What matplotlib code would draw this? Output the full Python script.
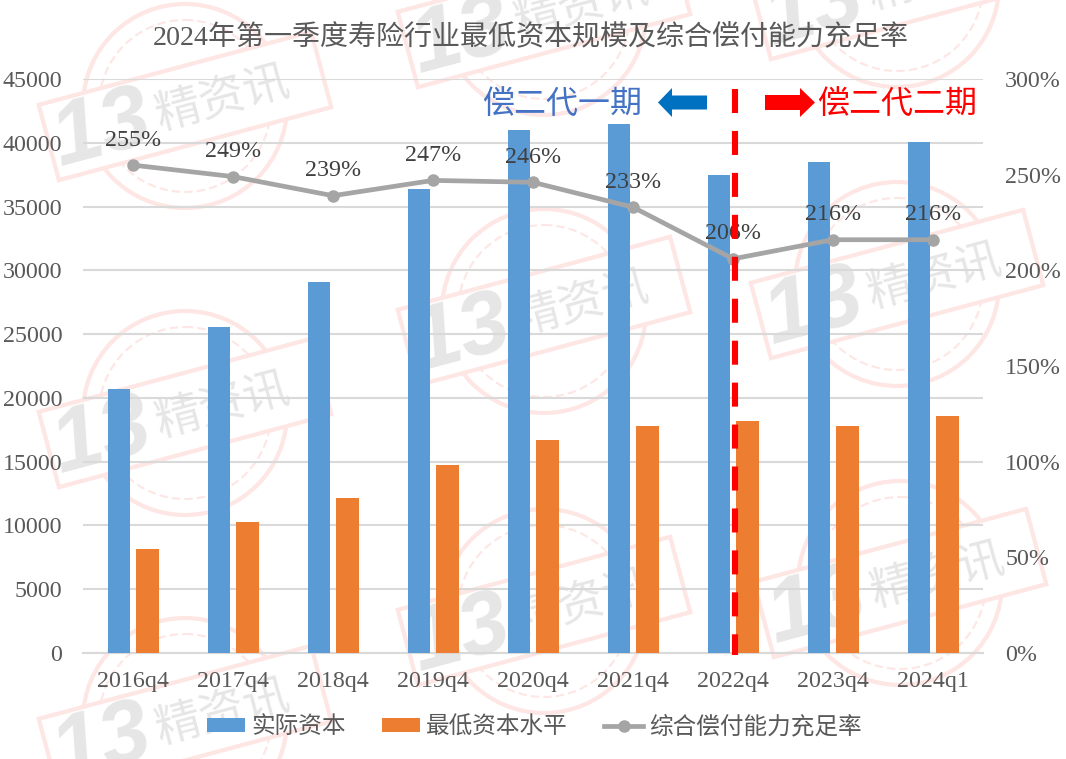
import matplotlib
matplotlib.use("Agg")
import numpy as np
import matplotlib.pyplot as plt
import matplotlib.patches as mpatches

plt.rcParams['font.family'] = ['Liberation Serif', 'Noto Sans CJK SC', 'DejaVu Sans']

# Data
categories = ['2016q4', '2017q4', '2018q4', '2019q4', '2020q4', '2021q4', '2022q4', '2023q4', '2024q1']
actual_capital = [20700, 25560, 29080, 36370, 41000, 41470, 37470, 38490, 40060]
min_capital = [8150, 10270, 12150, 14740, 16700, 17800, 18190, 17800, 18580]
solvency_ratio = [2.55, 2.49, 2.39, 2.47, 2.46, 2.33, 2.06, 2.16, 2.16]
left_ticks = [0, 5000, 10000, 15000, 20000, 25000, 30000, 35000, 40000, 45000]
right_ticks = [0, 0.5, 1.0, 1.5, 2.0, 2.5, 3.0]

W, H = 1066, 759
GRID = '#d9d9d9'
TICK = '#595959'
BLUE = '#5b9bd5'
ORANGE = '#ed7d31'
GREY = '#a5a5a5'

fig = plt.figure(figsize=(W / 100, H / 100), dpi=100, facecolor='white')

# Watermark layer, in pixel coordinates
back = fig.add_axes([0, 0, 1, 1], zorder=-1)
back.set_xlim(0, W)
back.set_ylim(H, 0)
back.axis('off')

def rotated(cx, cy, dx, dy, deg=15):
    a = np.radians(deg)
    return cx + dx * np.cos(a) + dy * np.sin(a), cy - dx * np.sin(a) + dy * np.cos(a)

def stamp(cx, cy):
    red = '#fde6e3'
    back.add_patch(mpatches.Circle((cx, cy), 102, fill=False, ec=red, lw=3, zorder=1))
    back.add_patch(mpatches.Circle((cx, cy), 86, fill=False, ec=red, lw=1.5, ls=(0, (4, 2)), zorder=1))
    corners = [rotated(cx, cy, sx * 141, sy * 39) for sx, sy in [(-1, -1), (1, -1), (1, 1), (-1, 1)]]
    back.add_patch(mpatches.Polygon(corners, closed=True, fc='white', ec=red, lw=3, zorder=2))
    back.text(cx - 83, cy + 25, '13', fontsize=64, fontweight='bold', fontstyle='italic',
              family='Liberation Sans', color='#e6e6e6', rotation=15,
              ha='center', va='center', rotation_mode='anchor', zorder=3)
    back.text(cx + 38, cy - 8, '精资讯', fontsize=33, family='Noto Sans CJK SC', color='#e6e6e6',
              rotation=15, ha='center', va='center', rotation_mode='anchor', zorder=3)

for cx, cy in [(185, 106), (185, 413), (185, 720),
               (544, 13), (544, 311), (544, 611),
               (897, -15), (897, 284), (900, 583)]:
    stamp(cx, cy)

# Main axes: plot area spans x 83-983, y 79-653 in pixels
ax = fig.add_axes([83 / W, 1 - 653 / H, 900 / W, 574 / H])
ax.patch.set_alpha(0)
x = np.arange(len(categories))
ax.bar(x - 0.14, actual_capital, width=0.225, color=BLUE, zorder=2, label='实际资本')
ax.bar(x + 0.145, min_capital, width=0.23, color=ORANGE, zorder=2, label='最低资本水平')
ax.set_xlim(-0.5, 8.5)
ax.set_ylim(0, 45000)
ax.set_yticks(left_ticks)
ax.set_xticks(x)
ax.set_xticklabels(categories)
ax.tick_params(axis='y', length=0, pad=15, labelsize=17.3, labelcolor=TICK)
ax.tick_params(axis='x', length=0, pad=13, labelsize=17.3, labelcolor=TICK)
ax.grid(axis='y', color=GRID, lw=1.5, zorder=1)
ax.set_axisbelow(True)
for s in ax.spines.values():
    s.set_visible(False)
ax.axhline(0, color=GRID, lw=1.5, zorder=1, clip_on=False)

# Secondary axis for the ratio line
ax2 = ax.twinx()
ax2.patch.set_alpha(0)
ax2.plot(x, solvency_ratio, color=GREY, lw=3.4, marker='o', ms=8, zorder=3, label='综合偿付能力充足率')
ax2.set_ylim(0, 3)
ax2.set_yticks(right_ticks)
ax2.set_yticklabels([f'{int(t * 100)}%' for t in right_ticks])
ax2.tick_params(axis='y', length=0, pad=16, labelsize=17.3, labelcolor=TICK)
for s in ax2.spines.values():
    s.set_visible(False)
for xi, v in zip(x, solvency_ratio):
    ax2.annotate(f'{int(round(v * 100))}%', (xi, v), xytext=(0, 18), textcoords='offset points',
                 ha='center', va='center', fontsize=17.3, color='#404040', zorder=4)

# Red divider between the two regimes
ax2.plot([6.02, 6.02], [2.95, -0.01], color='#ff0000', lw=4.4, zorder=6, clip_on=False,
         dash_capstyle='butt', linestyle=(0, (17.3 / 4.4, 12.9 / 4.4)))

# Arrows and regime labels
top = fig.add_axes([0, 0, 1, 1], zorder=5)
top.set_xlim(0, W)
top.set_ylim(H, 0)
top.axis('off')
top.add_patch(mpatches.FancyArrow(707, 102.5, -49, 0, width=14, head_width=29, head_length=14,
                                  length_includes_head=True, color='#0070c0', lw=0))
top.add_patch(mpatches.FancyArrow(765, 102.5, 50, 0, width=15, head_width=29, head_length=15,
                                  length_includes_head=True, color='#ff0000', lw=0))
top.text(562, 105, '偿二代一期', fontsize=23, color='#4472c4', ha='center', va='center')
top.text(897, 105, '偿二代二期', fontsize=23, color='#ff0000', ha='center', va='center')

fig.text(531 / W, 1 - 38 / H, '2024年第一季度寿险行业最低资本规模及综合偿付能力充足率',
         fontsize=20.2, color=TICK, ha='center', va='center')

h1, l1 = ax.get_legend_handles_labels()
h2, l2 = ax2.get_legend_handles_labels()
fig.legend(h1 + h2, l1 + l2, loc='center', bbox_to_anchor=(534 / W, 1 - 727 / H), ncol=3,
           frameon=False, fontsize=17, labelcolor=TICK, handlelength=1.62, handleheight=0.5,
           handletextpad=0.25, columnspacing=1.55, borderpad=0)

fig.savefig('out.png', dpi=100)
